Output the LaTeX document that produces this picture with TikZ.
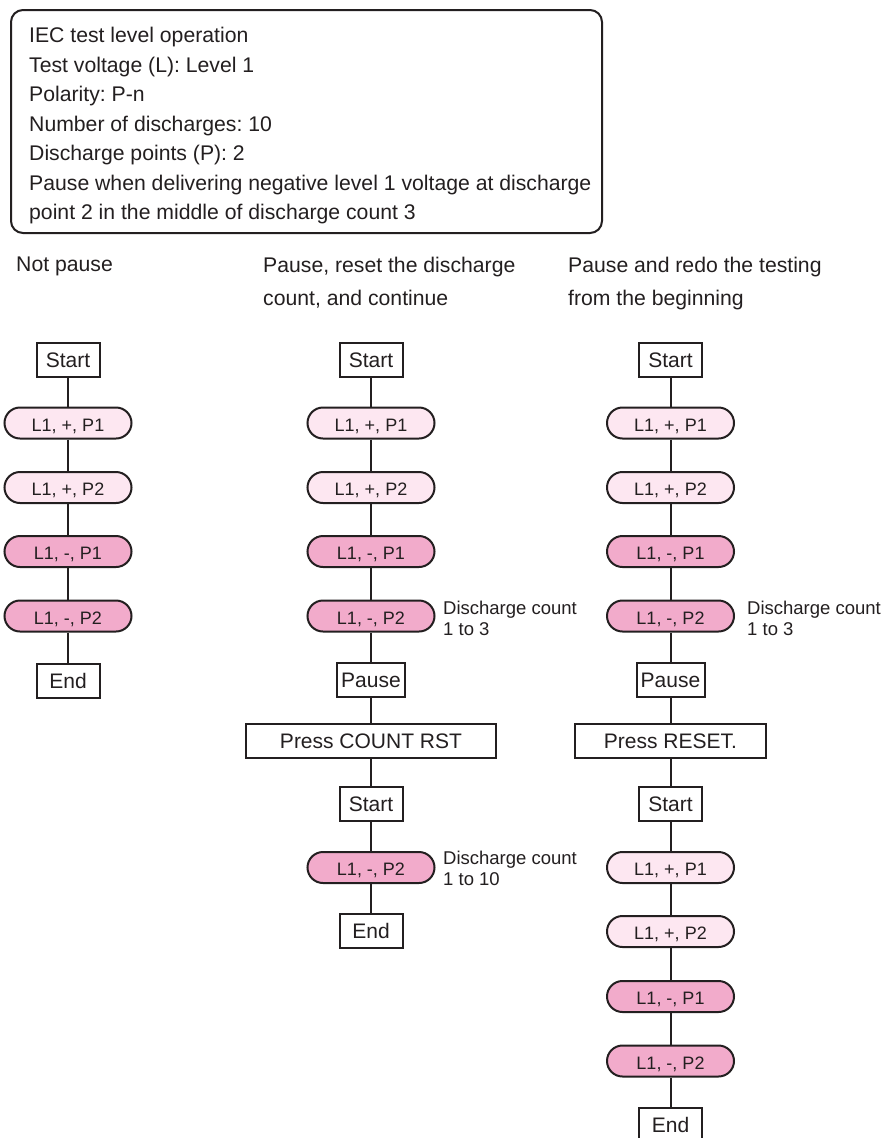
\documentclass[tikz,border=0pt]{standalone}
\usepackage{fontspec}
\setmainfont{Liberation Sans}
\frenchspacing
\definecolor{ink}{HTML}{231F20}
\definecolor{pinklight}{HTML}{FDE7F1}
\definecolor{pinkdark}{HTML}{F2ABCB}
\begin{document}
\begin{tikzpicture}[x=1pt,y=-1pt,
  every node/.style={text=ink},
  stepbox/.style={draw=ink, line width=2pt, fill=white, minimum height=34pt, minimum width=63pt,
    inner sep=0pt, text height=15pt, text depth=0pt, font=\fontsize{21}{25}\selectfont},
  pillbox/.style={draw=ink, line width=2pt, rounded corners=15.5pt, minimum width=127pt, minimum height=31pt,
    inner sep=0pt, text height=16pt, text depth=0pt, font=\fontsize{18}{22}\selectfont},
  pospill/.style={pillbox, fill=pinklight},
  negpill/.style={pillbox, fill=pinkdark},
  link/.style={draw=ink, line width=2pt},
  note/.style={anchor=north west, inner sep=0pt, align=left, font=\fontsize{18.5}{21}\selectfont},
  head/.style={anchor=north west, inner sep=0pt, align=left, font=\fontsize{21.2}{33}\selectfont},
  infotext/.style={anchor=north west, inner sep=0pt, align=left, font=\fontsize{21.2}{29.5}\selectfont}
]
\fill[white] (0,0) rectangle (888,1138);
\useasboundingbox (0,0) rectangle (888,1138);

% info box
\node[draw=ink, line width=2pt, rounded corners=12pt, minimum width=591pt, minimum height=223pt, inner sep=0pt] (info) at (306.5,121.5) {};
\node[infotext] (infotxt) at (29,27) {IEC test level operation\\Test voltage (L): Level 1\\Polarity: P-n\\Number of discharges: 10\\Discharge points (P): 2\\Pause when delivering negative level 1 voltage at discharge\\point 2 in the middle of discharge count 3};

% headings
\node[head] (h1) at (16,257) {Not pause};
\node[head] (h2) at (263,257) {Pause, reset the discharge\\count, and continue};
\node[head] (h3) at (568,257) {Pause and redo the testing\\from the beginning};

% column 1
\node[stepbox] (a0) at (68,359.5) {Start};
\node[pospill] (a1) at (68,423) {L1, +, P1};
\node[pospill] (a2) at (68,487.5) {L1, +, P2};
\node[negpill] (a3) at (68,551.5) {L1, -, P1};
\node[negpill] (a4) at (68,616) {L1, -, P2};
\node[stepbox] (a5) at (68,680.5) {End};
\draw[link] (a0) -- (a1) -- (a2) -- (a3) -- (a4) -- (a5);

% column 2
\node[stepbox] (b0) at (371,359.5) {Start};
\node[pospill] (b1) at (371,423) {L1, +, P1};
\node[pospill] (b2) at (371,487.5) {L1, +, P2};
\node[negpill] (b3) at (371,551.5) {L1, -, P1};
\node[negpill] (b4) at (371,616) {L1, -, P2};
\node[stepbox, minimum width=68pt] (b5) at (371,680) {Pause};
\node[stepbox, minimum width=250pt] (b6) at (371,741) {Press COUNT RST};
\node[stepbox] (b7) at (371,804) {Start};
\node[negpill] (b8) at (371,867.5) {L1, -, P2};
\node[stepbox] (b9) at (371,931) {End};
\draw[link] (b0) -- (b1) -- (b2) -- (b3) -- (b4) -- (b5) -- (b6) -- (b7) -- (b8) -- (b9);
\node[note] (n1) at (443,600.6) {Discharge count\\1 to 3};
\node[note] (n2) at (443,850.6) {Discharge count\\1 to 10};

% column 3
\node[stepbox] (c0) at (670.5,359.5) {Start};
\node[pospill] (c1) at (670.5,423) {L1, +, P1};
\node[pospill] (c2) at (670.5,487.5) {L1, +, P2};
\node[negpill] (c3) at (670.5,551.5) {L1, -, P1};
\node[negpill] (c4) at (670.5,616) {L1, -, P2};
\node[stepbox, minimum width=68pt] (c5) at (670.5,680) {Pause};
\node[stepbox, minimum width=191pt] (c6) at (670.5,741) {Press RESET.};
\node[stepbox] (c7) at (670.5,804) {Start};
\node[pospill] (c8) at (670.5,867.5) {L1, +, P1};
\node[pospill] (c9) at (670.5,931.5) {L1, +, P2};
\node[negpill] (c10) at (670.5,996.5) {L1, -, P1};
\node[negpill] (c11) at (670.5,1061) {L1, -, P2};
\node[stepbox] (c12) at (670.5,1124.5) {End};
\draw[link] (c0) -- (c1) -- (c2) -- (c3) -- (c4) -- (c5) -- (c6) -- (c7) -- (c8) -- (c9) -- (c10) -- (c11) -- (c12);
\node[note] (n3) at (747,600.6) {Discharge count\\1 to 3};
\end{tikzpicture}
\end{document}
